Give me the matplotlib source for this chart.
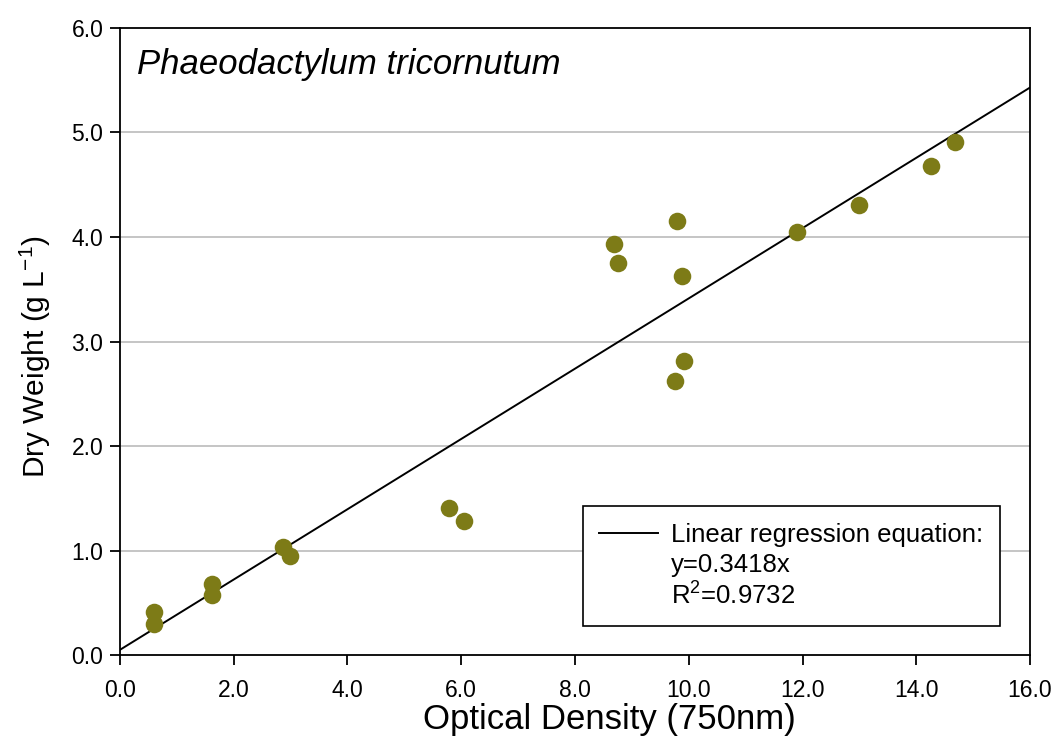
import matplotlib.pyplot as plt
from matplotlib.lines import Line2D

plt.rcParams["font.family"] = ["Liberation Sans", "DejaVu Sans"]
plt.rcParams["mathtext.fontset"] = "custom"
plt.rcParams["mathtext.rm"] = "Liberation Sans"
plt.rcParams["mathtext.it"] = "Liberation Sans:italic"

# leituras da figura original
optical_density = [0.60, 0.60, 1.62, 1.62, 2.87, 2.99, 5.78, 6.05, 8.69, 8.76,
                   9.79, 9.88, 9.92, 9.76, 11.90, 13.00, 14.26, 14.68]
dry_weight = [0.41, 0.30, 0.68, 0.57, 1.03, 0.95, 1.41, 1.28, 3.93, 3.75,
              4.15, 3.63, 2.81, 2.62, 4.05, 4.31, 4.68, 4.91]

fit_x = [0.0, 16.0]
fit_y = [0.05, 5.43]

x_ticks = [0, 2, 4, 6, 8, 10, 12, 14, 16]
y_ticks = [0, 1, 2, 3, 4, 5, 6]

fig = plt.figure(figsize=(10.56, 7.36), dpi=100)
ax = fig.add_axes([0.1136, 0.110, 0.8618, 0.852])

for y in y_ticks[1:-1]:
    ax.axhline(y, color="#c0c0c0", linewidth=1.3, zorder=0)

ax.plot(fit_x, fit_y, color="black", linewidth=1.4, zorder=2)
ax.scatter(optical_density, dry_weight, s=160, color="#7d7b17", zorder=3,
           linewidths=0)

ax.set_xlim(0, 16)
ax.set_ylim(0, 6)
ax.set_xticks(x_ticks)
ax.set_yticks(y_ticks)
ax.set_xticklabels([f"{v:.1f}" for v in x_ticks])
ax.set_yticklabels([f"{v:.1f}" for v in y_ticks])
ax.tick_params(direction="out", length=7, width=1.3, labelsize=16.5)
ax.tick_params(axis="x", pad=10)
ax.tick_params(axis="y", pad=5)
for spine in ax.spines.values():
    spine.set_linewidth(1.3)

ax.set_xlabel("Optical Density (750nm)", fontsize=25)
ax.set_ylabel("Dry Weight (g L$^{-1}$)", fontsize=21.5)
# rótulos levemente deslocados como no original
ax.xaxis.set_label_coords(0.538, -0.076)
ax.yaxis.set_label_coords(-0.074, 0.475)

ax.text(0.019, 0.968, "Phaeodactylum tricornutum", transform=ax.transAxes,
        fontsize=25, style="italic", ha="left", va="top")

blank = Line2D([], [], color="none")
handles = [Line2D([], [], color="black", linewidth=1.4), blank, blank]
labels = ["Linear regression equation:", "y=0.3418x", "R$^2$=0.9732"]
leg = ax.legend(handles, labels, loc="lower right",
                bbox_to_anchor=(0.967, 0.046), fontsize=18.5, frameon=True,
                fancybox=False, edgecolor="black", framealpha=1,
                handlelength=2.3, handletextpad=0.5, labelspacing=0.22,
                borderpad=0.65, borderaxespad=0)
leg.get_frame().set_linewidth(1.2)

fig.savefig("out.png", dpi=100)
